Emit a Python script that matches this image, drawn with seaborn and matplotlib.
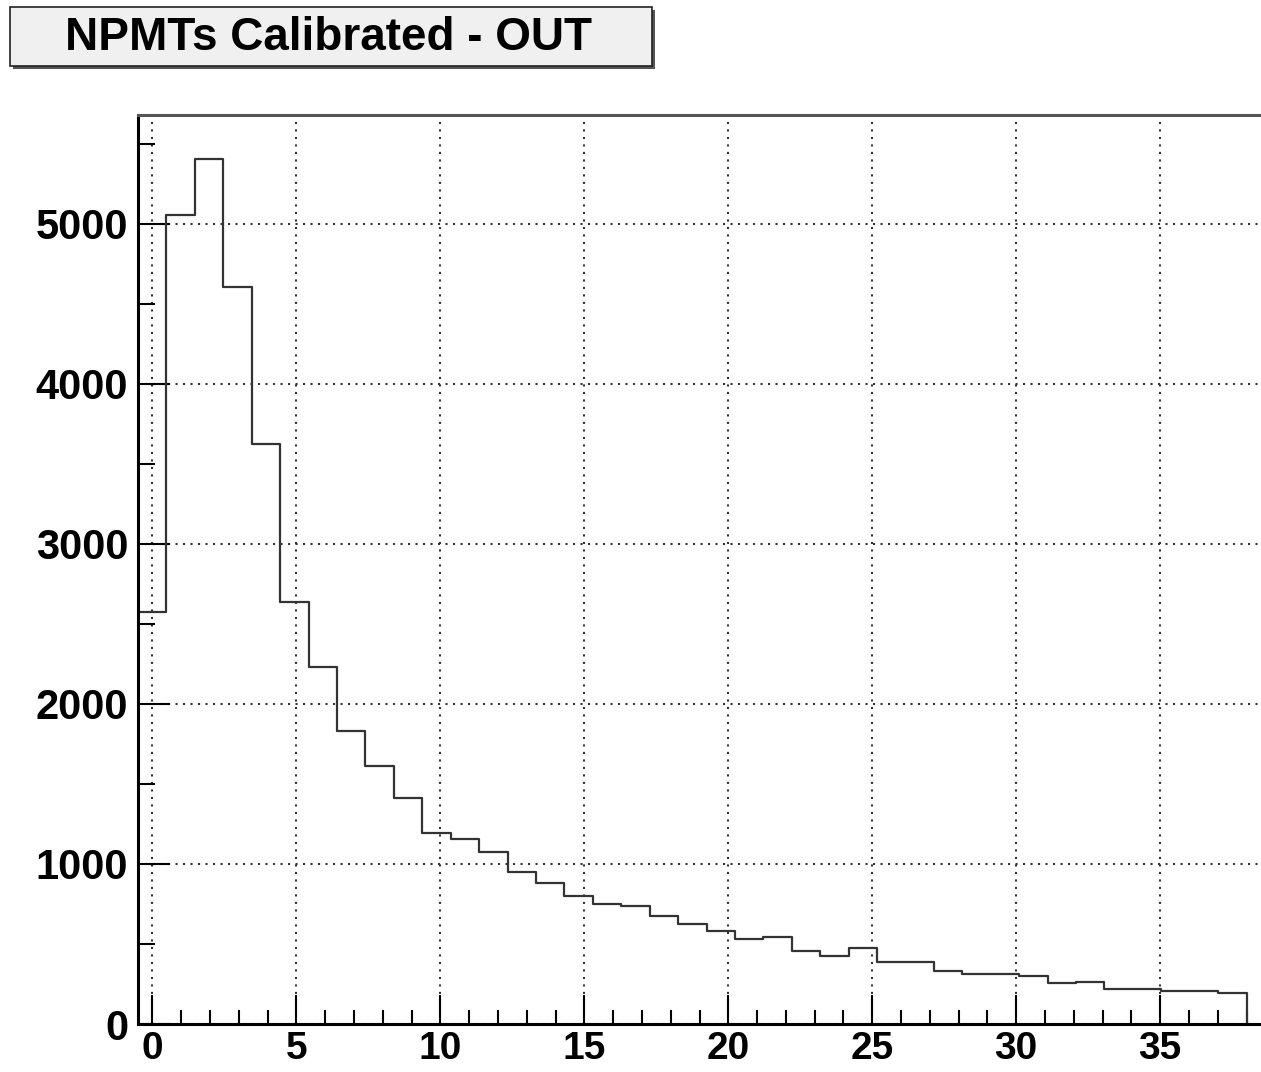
import matplotlib
matplotlib.use("Agg")
import matplotlib.pyplot as plt
from matplotlib.patches import Rectangle
from matplotlib.ticker import MultipleLocator
import numpy as np
import pandas as pd
import seaborn as sns

# histogram contents (39 bins)
bin_lo = -0.5
bin_hi = 38.0
counts = [2573, 5056, 5406, 4608, 3624, 2635, 2229, 1831, 1615, 1410,
          1192, 1154, 1073, 952, 879, 800, 748, 737, 677, 625,
          583, 533, 546, 456, 428, 473, 390, 390, 333, 315,
          313, 302, 254, 261, 221, 217, 208, 208, 192]
x_ticks = [0, 5, 10, 15, 20, 25, 30, 35]
y_ticks = [0, 1000, 2000, 3000, 4000, 5000]
title = "NPMTs Calibrated - OUT"

edges = np.linspace(bin_lo, bin_hi, len(counts) + 1)
df = pd.DataFrame({"npmt": 0.5 * (edges[:-1] + edges[1:]), "n": counts})

sns.set_style("ticks")
plt.rcParams["font.family"] = ["Liberation Sans", "DejaVu Sans"]

fig = plt.figure(figsize=(12.61, 10.72), dpi=100)
ax = fig.add_axes([138 / 1261, 1 - 1024 / 1072, 1 - 138 / 1261, (1024 - 115) / 1072])

sns.histplot(data=df, x="npmt", weights="n", bins=edges.tolist(), element="step",
             fill=False, color="#333333", linewidth=1.6, ax=ax)
ax.vlines(edges[-1], 0, counts[-1], color="#333333", linewidth=1.6)

ax.set_xlim(-0.5, 38.5)
ax.set_ylim(0, 5681)
ax.set_xticks(x_ticks)
ax.set_yticks(y_ticks)
ax.xaxis.set_minor_locator(MultipleLocator(1))
ax.yaxis.set_minor_locator(MultipleLocator(500))
ax.set_xlabel("")
ax.set_ylabel("")

ax.grid(True, which="major", color="#333333", linewidth=1.5, linestyle=(0, (1.0, 2.6)))
ax.set_axisbelow(True)

for lab in ax.get_yticklabels():
    lab.set_fontsize(30)
    lab.set_fontweight("bold")
    lab.set_color("black")
for lab in ax.get_xticklabels():
    lab.set_fontsize(28)
    lab.set_fontweight("bold")
    lab.set_color("black")
ax.tick_params(which="both", direction="in", color="black", width=1.5)
ax.tick_params(axis="x", which="major", length=21, pad=5)
ax.tick_params(axis="x", which="minor", length=10)
ax.tick_params(axis="y", which="major", length=23, pad=7)
ax.tick_params(axis="y", which="minor", length=12)

ax.spines["right"].set_visible(False)
ax.spines["left"].set_linewidth(2.2)
ax.spines["bottom"].set_linewidth(2.2)
ax.spines["left"].set_color("black")
ax.spines["bottom"].set_color("black")
ax.spines["top"].set_linewidth(2.2)
ax.spines["top"].set_color("#555555")

# title box with a small drop shadow, like ROOT's TPaveText
bx, by, bw, bh = 10 / 1261, 1 - 66 / 1072, 642 / 1261, 59 / 1072
fig.patches.append(Rectangle((bx + 3 / 1261, by - 3 / 1072), bw, bh, transform=fig.transFigure,
                             facecolor="#555555", edgecolor="none", zorder=1))
fig.patches.append(Rectangle((bx, by), bw, bh, transform=fig.transFigure,
                             facecolor="#f0f0f0", edgecolor="#222222", linewidth=1.2, zorder=2))
fig.text(bx + bw / 2 - 2 / 1261, by + bh / 2 - 1 / 1072, title, ha="center", va="center",
         fontsize=33, fontweight="bold", color="black", zorder=3)

fig.savefig("out.png", dpi=100)
